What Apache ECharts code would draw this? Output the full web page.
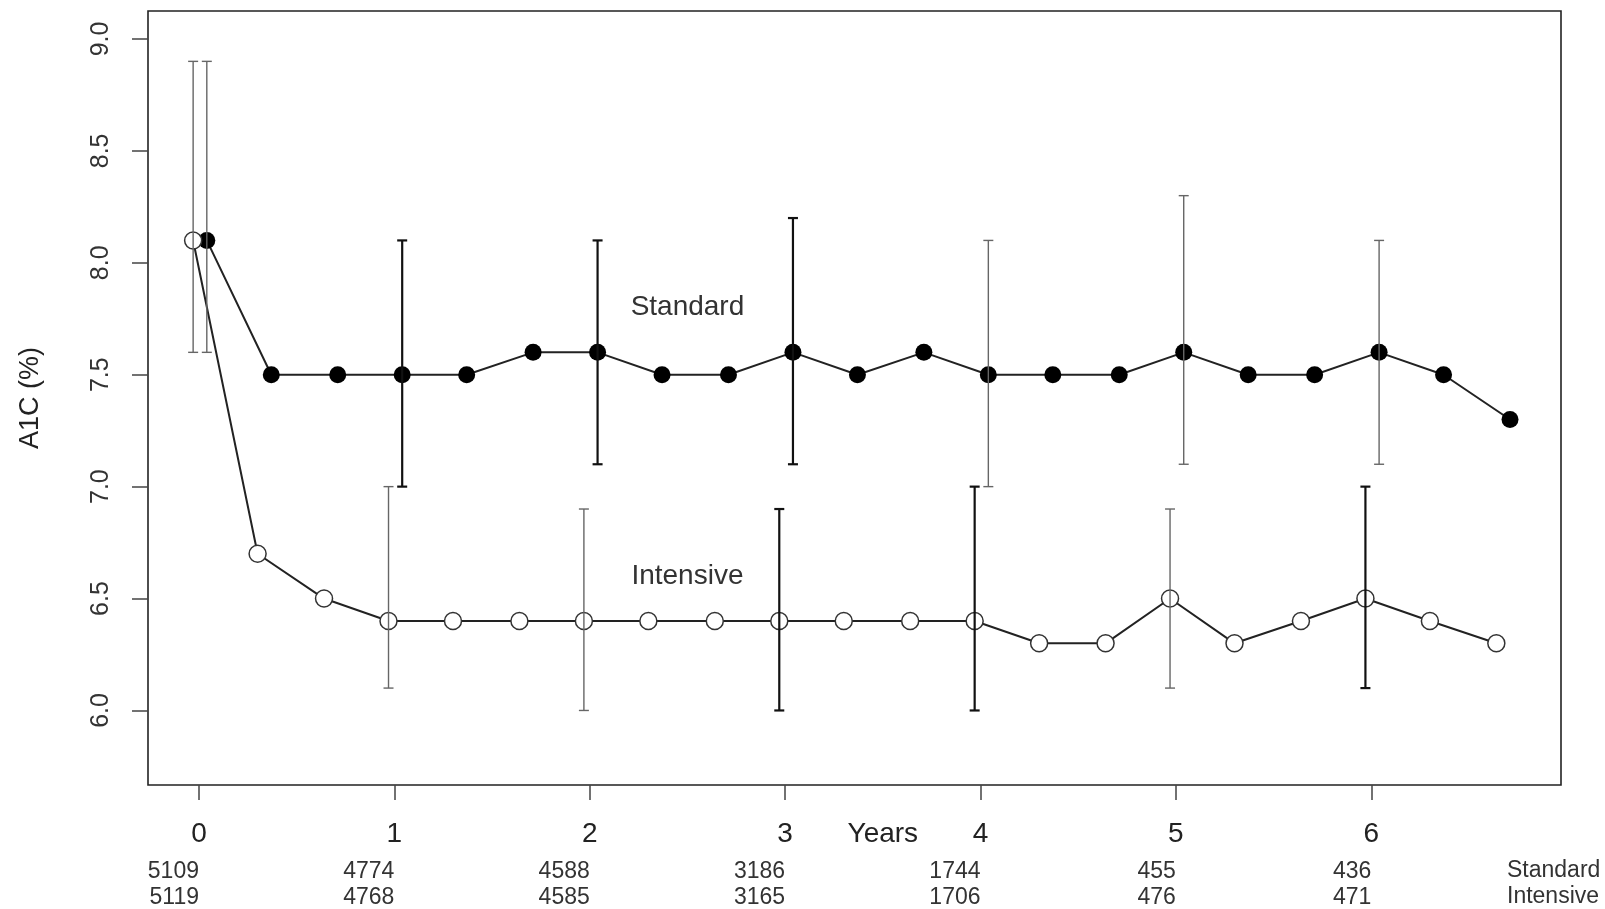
<!DOCTYPE html>
<html>
<head>
<meta charset="utf-8">
<title>A1C by treatment group</title>
<script src="https://cdn.jsdelivr.net/npm/echarts@6/dist/echarts.min.js"></script>
<style>
  html, body { margin: 0; padding: 0; background: #fff; }
  #chart { width: 1605px; height: 909px; }
</style>
</head>
<body>
<div id="chart"></div>
<script>
// ---- data ----
const stdYears = [0.04, 0.37, 0.71, 1.04, 1.37, 1.71, 2.04, 2.37, 2.71, 3.04, 3.37,
                  3.71, 4.04, 4.37, 4.71, 5.04, 5.37, 5.71, 6.04, 6.37, 6.71];
const stdA1c   = [8.1, 7.5, 7.5, 7.5, 7.5, 7.6, 7.6, 7.5, 7.5, 7.6, 7.5,
                  7.6, 7.5, 7.5, 7.5, 7.6, 7.5, 7.5, 7.6, 7.5, 7.3];
const intYears = [-0.03, 0.30, 0.64, 0.97, 1.30, 1.64, 1.97, 2.30, 2.64, 2.97, 3.30,
                  3.64, 3.97, 4.30, 4.64, 4.97, 5.30, 5.64, 5.97, 6.30, 6.64];
const intA1c   = [8.1, 6.7, 6.5, 6.4, 6.4, 6.4, 6.4, 6.4, 6.4, 6.4, 6.4,
                  6.4, 6.4, 6.3, 6.3, 6.5, 6.3, 6.4, 6.5, 6.4, 6.3];

// error bars (range) at yearly visits
const stdBarYears = [0.04, 1.04, 2.04, 3.04, 4.04, 5.04, 6.04];
const stdLow      = [7.6, 7.0, 7.1, 7.1, 7.0, 7.1, 7.1];
const stdHigh     = [8.9, 8.1, 8.1, 8.2, 8.1, 8.3, 8.1];
const intBarYears = [-0.03, 0.97, 1.97, 2.97, 3.97, 4.97, 5.97];
const intLow      = [7.6, 6.1, 6.0, 6.0, 6.0, 6.1, 6.1];
const intHigh     = [8.9, 7.0, 6.9, 6.9, 7.0, 6.9, 7.0];

// number of participants under the axis
const yearTicks = [0, 1, 2, 3, 4, 5, 6];
const stdN = [5109, 4774, 4588, 3186, 1744, 455, 436];
const intN = [5119, 4768, 4585, 3165, 1706, 476, 471];

const yTicks = [6.0, 6.5, 7.0, 7.5, 8.0, 8.5, 9.0];

// in-plot labels
const annoX = [2.5, 2.5];
const annoY = [7.8, 6.6];
const annoText = ['Standard', 'Intensive'];

// ---- chart ----
const FONT = '"Liberation Sans", Arial, Helvetica, sans-serif';
const chart = echarts.init(document.getElementById('chart'));

// which bars print dark in the figure
const stdBarDark = [false, true, true, true, false, false, false];
const intBarDark = [false, false, false, true, true, false, true];

function errorBarRender(darkList) {
  return function (params, api) {
    const x = api.value(0);
    const top = api.coord([x, api.value(2)]);
    const bot = api.coord([x, api.value(1)]);
    const dark = darkList[params.dataIndex];
    const style = { stroke: dark ? '#111' : '#666', lineWidth: dark ? 2.2 : 1.4 };
    const cap = 5;
    return {
      type: 'group',
      children: [
        { type: 'line', shape: { x1: top[0], y1: top[1], x2: bot[0], y2: bot[1] }, style },
        { type: 'line', shape: { x1: top[0] - cap, y1: top[1], x2: top[0] + cap, y2: top[1] }, style },
        { type: 'line', shape: { x1: bot[0] - cap, y1: bot[1], x2: bot[0] + cap, y2: bot[1] }, style }
      ]
    };
  };
}

const xMin = -0.261, xMax = 6.971;

function countAxis(list, margin) {
  return {
    type: 'value',
    position: 'bottom',
    min: xMin,
    max: xMax,
    axisLine: { show: false, onZero: false },
    axisTick: { show: false },
    splitLine: { show: false },
    axisLabel: {
      customValues: yearTicks,
      formatter: (v) => String(list[Math.round(v)]),
      align: 'right',
      margin: margin,
      fontSize: 23,
      lineHeight: 23,
      fontFamily: FONT,
      color: '#333'
    }
  };
}

const option = {
  animation: false,
  backgroundColor: '#fff',
  grid: {
    left: 148, right: 44, top: 11, bottom: 124,
    show: true,
    borderColor: '#222',
    borderWidth: 1.6,
    backgroundColor: 'transparent'
  },
  xAxis: [
    {
      type: 'value',
      min: xMin,
      max: xMax,
      axisLine: { show: false, onZero: false },
      splitLine: { show: false },
      axisTick: {
        customValues: yearTicks,
        length: 15,
        lineStyle: { color: '#444', width: 1.5 }
      },
      axisLabel: {
        customValues: [0, 1, 2, 3, 3.5, 4, 5, 6],
        formatter: (v) => (v === 3.5 ? 'Years' : String(v)),
        margin: 35,
        fontSize: 28,
        lineHeight: 28,
        fontFamily: FONT,
        color: '#222'
      }
    },
    countAxis(stdN, 75),
    countAxis(intN, 101)
  ],
  yAxis: {
    type: 'value',
    min: 5.667,
    max: 9.125,
    name: 'A1C (%)',
    nameLocation: 'middle',
    nameRotate: 90,
    nameGap: 104,
    nameTextStyle: { fontSize: 27, fontFamily: FONT, color: '#222' },
    axisLine: { show: false, onZero: false },
    splitLine: { show: false },
    axisTick: {
      customValues: yTicks,
      length: 16,
      lineStyle: { color: '#444', width: 1.5 }
    },
    axisLabel: {
      customValues: yTicks,
      formatter: (v) => v.toFixed(1),
      rotate: 90,
      margin: 34,
      fontSize: 25,
      fontFamily: FONT,
      color: '#333'
    }
  },
  graphic: [
    { type: 'text', x: 1507, y: 871,
      style: { text: 'Standard', fontSize: 23, fontFamily: FONT, fill: '#333', verticalAlign: 'middle', align: 'left' } },
    { type: 'text', x: 1507, y: 897,
      style: { text: 'Intensive', fontSize: 23, fontFamily: FONT, fill: '#333', verticalAlign: 'middle', align: 'left' } }
  ],
  series: [
    {
      name: 'Standard',
      type: 'line',
      data: stdYears.map((x, i) => [x, stdA1c[i]]),
      symbol: 'circle',
      symbolSize: 17,
      itemStyle: { color: '#000' },
      lineStyle: { color: '#222', width: 2 },
      z: 3
    },
    {
      name: 'Intensive',
      type: 'line',
      data: intYears.map((x, i) => [x, intA1c[i]]),
      symbol: 'circle',
      symbolSize: 17,
      itemStyle: { color: '#fff', borderColor: '#333', borderWidth: 1.5 },
      lineStyle: { color: '#222', width: 2 },
      z: 3
    },
    {
      name: 'Standard range',
      type: 'custom',
      renderItem: errorBarRender(stdBarDark),
      data: stdBarYears.map((x, i) => [x, stdLow[i], stdHigh[i]]),
      encode: { x: 0, y: [1, 2] },
      z: 4
    },
    {
      name: 'Intensive range',
      type: 'custom',
      renderItem: errorBarRender(intBarDark),
      data: intBarYears.map((x, i) => [x, intLow[i], intHigh[i]]),
      encode: { x: 0, y: [1, 2] },
      z: 4
    },
    {
      name: 'labels',
      type: 'custom',
      data: annoX.map((x, i) => [x, annoY[i], i]),
      encode: { x: 0, y: 1 },
      renderItem: function (params, api) {
        const p = api.coord([api.value(0), api.value(1)]);
        return {
          type: 'text',
          x: p[0],
          y: p[1],
          style: {
            text: annoText[params.dataIndex],
            fontSize: 28,
            fontFamily: FONT,
            fill: '#333',
            align: 'center',
            verticalAlign: 'middle'
          }
        };
      },
      z: 5
    }
  ]
};

chart.setOption(option);
</script>
</body>
</html>
